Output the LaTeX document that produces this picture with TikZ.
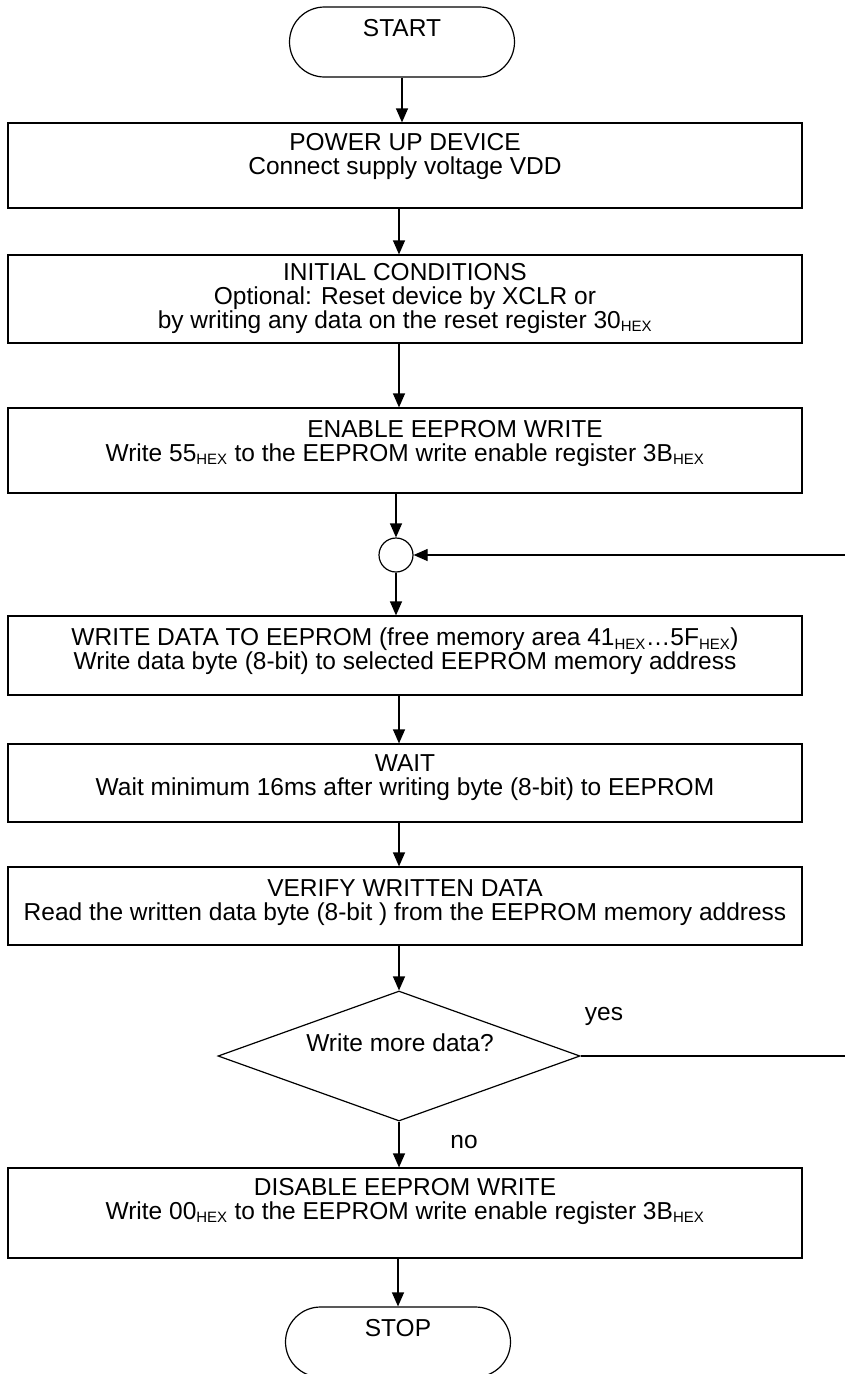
\documentclass[tikz,border=0pt]{standalone}
\usepackage{fontspec}
\setmainfont{Liberation Sans}
\usetikzlibrary{arrows.meta,shapes.geometric}

\newcommand{\hx}{\textsubscript{\fontsize{15}{15}\selectfont HEX}}

\begin{document}
\begin{tikzpicture}[
  x=1pt, y=-1pt,
  line width=1.2pt,
  font=\fontsize{24.5}{24}\selectfont,
  term/.style={draw, rectangle, rounded corners=35pt, minimum width=225pt, minimum height=70pt, inner sep=0pt},
  stepbox/.style={draw, rectangle, minimum width=794pt, inner sep=0pt},
  steptext/.style={align=center, inner sep=0pt},
  flow/.style={-{Triangle[length=14pt,width=12pt]}},
]
\useasboundingbox (0,0) rectangle (845,1374);

\coordinate (axis) at (399,0);
\coordinate (back) at (848,0);

\node[term] (start) at (402,42) {};
\node[steptext] (starttxt) at (402,28) {START};

\node[stepbox, minimum height=85pt] (power) at (405,165.5) {};
\node[steptext] (powertxt) at (405,156) {POWER UP DEVICE\\Connect supply voltage VDD};

\node[stepbox, minimum height=88pt] (init) at (405,299) {};
\node[steptext] (inittxt) at (405,298) {INITIAL CONDITIONS\\Optional: Reset device by XCLR or\\by writing any data on the reset register 30\hx};

\node[stepbox, minimum height=85pt] (enable) at (405,450.5) {};
\node[steptext] (enabletxt) at (405,443) {\hspace*{100pt}ENABLE EEPROM WRITE\\Write 55\hx{} to the EEPROM write enable register 3B\hx};

\node[draw, circle, minimum size=34pt, inner sep=0pt] (join) at (396,555) {};

\node[stepbox, minimum height=79pt] (writedata) at (405,655.5) {};
\node[steptext] (writedatatxt) at (405,651) {WRITE DATA TO EEPROM (free memory area 41\hx…5F\hx)\\Write data byte (8-bit) to selected EEPROM memory address};

\node[stepbox, minimum height=78pt] (wait) at (405,783) {};
\node[steptext] (waittxt) at (405,778) {WAIT\\Wait minimum 16ms after writing byte (8-bit) to EEPROM};

\node[stepbox, minimum height=78pt] (verify) at (405,906) {};
\node[steptext] (verifytxt) at (405,903) {VERIFY WRITTEN DATA\\Read the written data byte (8-bit ) from the EEPROM memory address};

\node[draw, diamond, minimum width=362pt, minimum height=130pt, inner sep=0pt] (more) at (399,1056) {};
\node[steptext] (moretxt) at (400,1043) {Write more data?};

\node[stepbox, minimum height=90pt] (disable) at (405,1213) {};
\node[steptext] (disabletxt) at (405,1201) {DISABLE EEPROM WRITE\\Write 00\hx{} to the EEPROM write enable register 3B\hx};

\node[term] (stop) at (398,1342) {};
\node[steptext] (stoptxt) at (398,1328) {STOP};

\node[steptext] (yes) at (604,1016) {yes};
\node[steptext] (no) at (464,1142) {no};

% main flow
\draw[flow] (start) -- (start |- power.north);
\draw[flow] (power.south -| axis) -- (init.north -| axis);
\draw[flow] (init.south -| axis) -- (enable.north -| axis);
\draw[flow] (enable.south -| join) -- (join);
\draw[flow] (join) -- (join |- writedata.north);
\draw[flow] (writedata.south -| axis) -- (wait.north -| axis);
\draw[flow] (wait.south -| axis) -- (verify.north -| axis);
\draw[flow] (verify.south -| more) -- (more);
\draw[flow] (more) -- (more |- disable.north);
\draw[flow] (disable.south -| stop) -- (stop);

% loop back
\draw[flow] (more.east) -- (more.east -| back) -- (back |- join) -- (join);
\end{tikzpicture}
\end{document}
